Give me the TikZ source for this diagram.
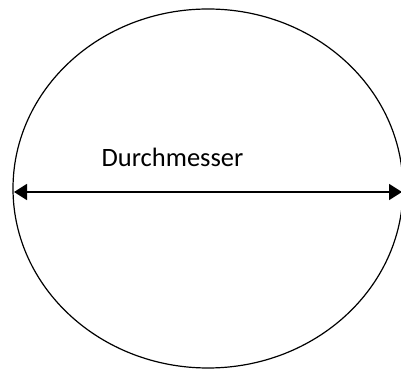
\documentclass[tikz,border=0pt]{standalone}
\usepackage{fontspec}
\setmainfont{Carlito}
\usetikzlibrary{arrows.meta,shapes.geometric}

\begin{document}
\begin{tikzpicture}[x=1pt,y=1pt, line width=1.2pt, every node/.style={font=\fontsize{26.5}{30}\selectfont}]
			\useasboundingbox (0,0) rectangle (401,369);
			\node[draw, ellipse, inner sep=0pt, outer sep=0pt, minimum width=390pt, minimum height=359pt] (kreis) at (208,180.5) {};
			\coordinate (links) at (14,177);
			\coordinate (rechts) at (402,177);
			\draw[line width=1.7pt, {Triangle[length=13pt,width=16pt]}-{Triangle[length=13pt,width=16pt]}] (links) -- (rechts);
			\node[anchor=base] (dm) at (172.5,202) {Durchmesser};
		\end{tikzpicture}
\end{document}
